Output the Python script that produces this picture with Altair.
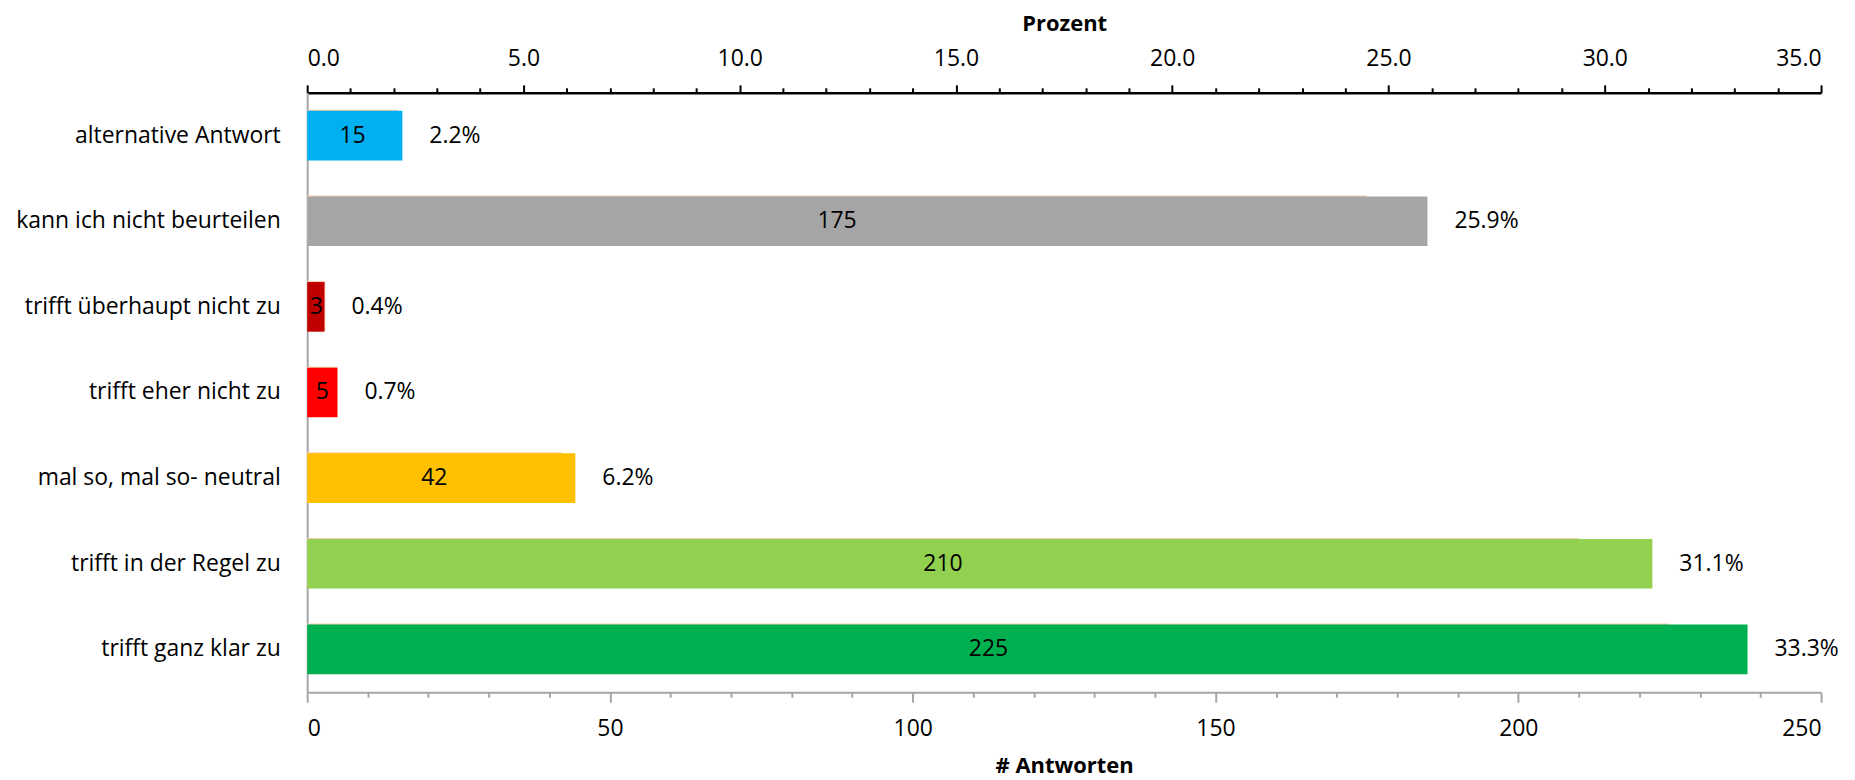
import altair as alt
import pandas as pd

categories = [
    "alternative Antwort",
    "kann ich nicht beurteilen",
    "trifft überhaupt nicht zu",
    "trifft eher nicht zu",
    "mal so, mal so- neutral",
    "trifft in der Regel zu",
    "trifft ganz klar zu",
]
counts = [15, 175, 3, 5, 42, 210, 225]
percents = [2.2, 25.9, 0.4, 0.7, 6.2, 31.1, 33.3]
colors = ["#00B0F0", "#A5A5A5", "#C00000", "#FF0000", "#FFC000", "#92D050", "#00B050"]
pct_ticks = [float(v) for v in range(0, 36)]          # majors every 5.0, minors every 1.0
count_ticks = list(range(0, 251, 10))                  # majors every 50, minors every 10

FONT = "Open Sans"
FS = 23

df = pd.DataFrame({"cat": categories, "count": counts, "pct": percents})

base = alt.Chart(df).transform_calculate(
    mid="datum.count / 2",
    pct_label="format(datum.pct, '.1f') + '%'",
)

y_enc = alt.Y(
    "cat:N",
    sort=categories,
    scale=alt.Scale(domain=categories, paddingInner=0.42, paddingOuter=0.21),
    axis=alt.Axis(
        title=None,
        ticks=False,
        labelPadding=27,
        labelFont=FONT,
        labelFontSize=FS,
        labelColor="black",
        labelLimit=400,
        domainColor="#A6A6A6",
        domainWidth=2,
    ),
)

count_scale = alt.Scale(domain=[0, 250], nice=False, zero=True)
pct_scale = alt.Scale(domain=[0, 35], nice=False, zero=True)

count_axis = alt.Axis(
    orient="bottom",
    values=count_ticks,
    labelExpr="datum.value % 50 === 0 ? format(datum.value, 'd') : ''",
    labelOverlap=False,
    labelFont=FONT,
    labelFontSize=FS,
    labelColor="black",
    labelBaseline="middle",
    labelPadding=26,
    tickColor="#A6A6A6",
    tickWidth=2,
    tickSize={"condition": {"test": "datum.value % 50 === 0", "value": 10}, "value": 5},
    domainColor="#A6A6A6",
    domainWidth=2,
    grid=False,
    title="# Antworten",
    titleFont=FONT,
    titleFontSize=22,
    titleFontWeight="bold",
    titleColor="black",
    titleBaseline="middle",
    titleY=74,
)

pct_axis = alt.Axis(
    orient="top",
    values=pct_ticks,
    labelExpr="datum.value % 5 === 0 ? format(datum.value, '.1f') : ''",
    labelOverlap=False,
    labelFont=FONT,
    labelFontSize=FS,
    labelColor="black",
    labelBaseline="middle",
    labelPadding=26,
    tickColor="black",
    tickWidth=2,
    tickSize={"condition": {"test": "datum.value % 5 === 0", "value": 8}, "value": 5},
    domainColor="black",
    domainWidth=2.5,
    grid=False,
    title="Prozent",
    titleFont=FONT,
    titleFontSize=22,
    titleFontWeight="bold",
    titleColor="black",
    titleBaseline="middle",
    titleY=-69,
)

# hidden count series (shows as a thin peach edge above the bars)
count_bars = base.mark_bar(color="#F8CBAD", yOffset=-1).encode(
    x=alt.X("count:Q", scale=count_scale, axis=count_axis),
    y=y_enc,
)

pct_bars = base.mark_bar().encode(
    x=alt.X("pct:Q", scale=pct_scale, axis=pct_axis),
    y=y_enc,
    color=alt.Color("cat:N", scale=alt.Scale(domain=categories, range=colors), legend=None),
)

count_text = base.mark_text(
    align="center", baseline="middle", font=FONT, fontSize=FS, color="black"
).encode(
    x=alt.X("mid:Q", scale=count_scale, axis=None),
    y=y_enc,
    text=alt.Text("count:Q", format="d"),
)

pct_text = base.mark_text(
    align="left", baseline="middle", dx=27, font=FONT, fontSize=FS, color="black"
).encode(
    x=alt.X("pct:Q", scale=pct_scale, axis=None),
    y=y_enc,
    text="pct_label:N",
)

chart = (
    alt.layer(count_bars, pct_bars, count_text, pct_text)
    .resolve_scale(x="independent")
    .properties(
        width=1518,
        height=601,
        autosize=alt.AutoSizeParams(type="none"),
        padding={"left": 300, "top": 84, "right": 26, "bottom": 86},
        background="white",
    )
    .configure_view(stroke=None)
)

chart.save("out.html", embed_options={"renderer": "svg", "actions": False})
